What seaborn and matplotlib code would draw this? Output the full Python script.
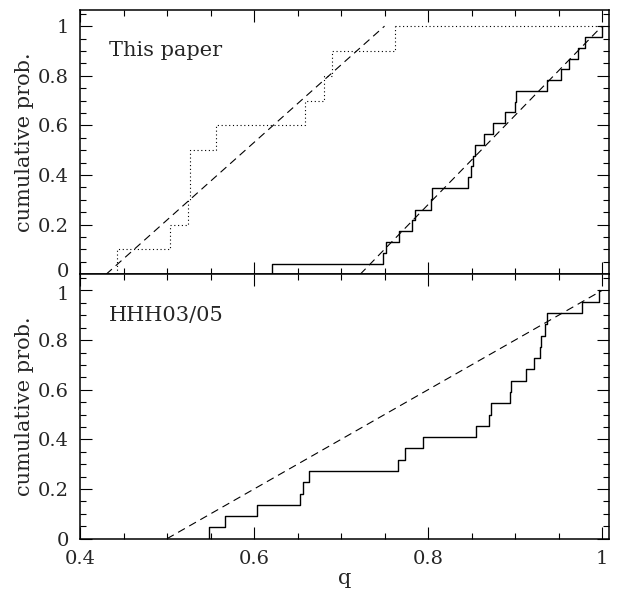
import numpy as np
import pandas as pd
import seaborn as sns
import matplotlib
matplotlib.use("Agg")
import matplotlib.pyplot as plt
from matplotlib.ticker import MultipleLocator, FuncFormatter
from matplotlib.transforms import ScaledTranslation

# Mass ratios q of the samples
this_paper_a = [0.442, 0.504, 0.524, 0.526, 0.527, 0.556, 0.659, 0.681, 0.690, 0.762]
this_paper_b = [0.621, 0.7477, 0.7522, 0.7672, 0.7814, 0.7845, 0.8033, 0.8045,
                0.8456, 0.8494, 0.8514, 0.8540, 0.864, 0.8744, 0.8886, 0.8994,
                0.9013, 0.937, 0.9523, 0.9615, 0.972, 0.980, 1.0]
hhh_q = [0.5487, 0.5663, 0.6035, 0.6526, 0.6568, 0.6627, 0.7653, 0.7737,
         0.7937, 0.8552, 0.8705, 0.8725, 0.8945, 0.8950, 0.9128, 0.9216,
         0.9286, 0.9300, 0.9350, 0.9370, 0.9765, 0.9966]

# Uniform reference distributions (q_min, q_max)
uniform_a = [0.43, 0.75]
uniform_b = [0.722, 1.0]
uniform_hhh = [0.50, 1.0]

panel_labels = ["This paper", "HHH03/05"]
xticks = [0.4, 0.6, 0.8, 1.0]
yticks = [0, 0.2, 0.4, 0.6, 0.8, 1.0]

sns.set_style("ticks")
plt.rcParams["font.family"] = ["DejaVu Serif"]
plt.rcParams["font.size"] = 14

fig = plt.figure(figsize=(6.18, 5.89), dpi=100)
left, right = 80 / 618, 609 / 618
top, mid, bottom = 1 - 10 / 589, 1 - 274.3 / 589, 1 - 538.7 / 589
ax1 = fig.add_axes([left, mid, right - left, top - mid])
ax2 = fig.add_axes([left, bottom, right - left, mid - bottom])

dash = (0, (7, 4.5))
dot = (0, (1, 2.4))
lw = 0.8


def uniform_line(ax, bounds):
    d = pd.DataFrame({"q": bounds, "p": [0.0, 1.0]})
    sns.lineplot(data=d, x="q", y="p", ax=ax, color="black", lw=lw, linestyle=dash)


# Upper panel
sns.ecdfplot(x=this_paper_a, ax=ax1, color="black", lw=lw, linestyle=dot)
ax1.plot([max(this_paper_a), 1.02], [1, 1], color="black", lw=lw, linestyle=dot)
sns.ecdfplot(x=this_paper_b, ax=ax1, color="black", lw=1.0)
uniform_line(ax1, uniform_a)
uniform_line(ax1, uniform_b)

# Lower panel
sns.ecdfplot(x=hhh_q, ax=ax2, color="black", lw=1.0)
uniform_line(ax2, uniform_hhh)

fmt = FuncFormatter(lambda v, p: "%g" % round(v, 2))
for ax, label in zip([ax1, ax2], panel_labels):
    ax.set_xlim(0.4, 1.008)
    ax.set_ylim(0, 1.065)
    ax.set_xticks(xticks)
    ax.set_yticks(yticks)
    ax.xaxis.set_minor_locator(MultipleLocator(0.05))
    ax.yaxis.set_minor_locator(MultipleLocator(0.05))
    ax.xaxis.set_major_formatter(fmt)
    ax.yaxis.set_major_formatter(fmt)
    ax.tick_params(which="both", direction="in", top=True, right=True,
                   width=0.8, color="black", labelsize=14, pad=8)
    ax.tick_params(which="major", length=8.4)
    ax.tick_params(which="minor", length=4.3)
    for s in ax.spines.values():
        s.set_linewidth(1.1)
        s.set_color("black")
    ax.set_ylabel("cumulative prob.", fontsize=15, labelpad=3)
    ax.text(0.433, 0.90, label, fontsize=15, va="center", ha="left")
    ax.set_facecolor("white")

ax1.tick_params(labelbottom=False)
ax1.set_xlabel("")
ax2.set_xlabel("q", fontsize=15, labelpad=1)

# Keep the "0" of the upper panel and the "1" of the lower panel apart
fig.canvas.draw()
px = 72 / fig.dpi
lab0 = ax1.get_yticklabels()[0]
lab0.set_transform(lab0.get_transform() + ScaledTranslation(0, 4 * px / 72, fig.dpi_scale_trans))
lab1 = ax2.get_yticklabels()[-1]
lab1.set_transform(lab1.get_transform() + ScaledTranslation(0, -3 * px / 72, fig.dpi_scale_trans))

fig.savefig("out.png", dpi=100, facecolor="white")
